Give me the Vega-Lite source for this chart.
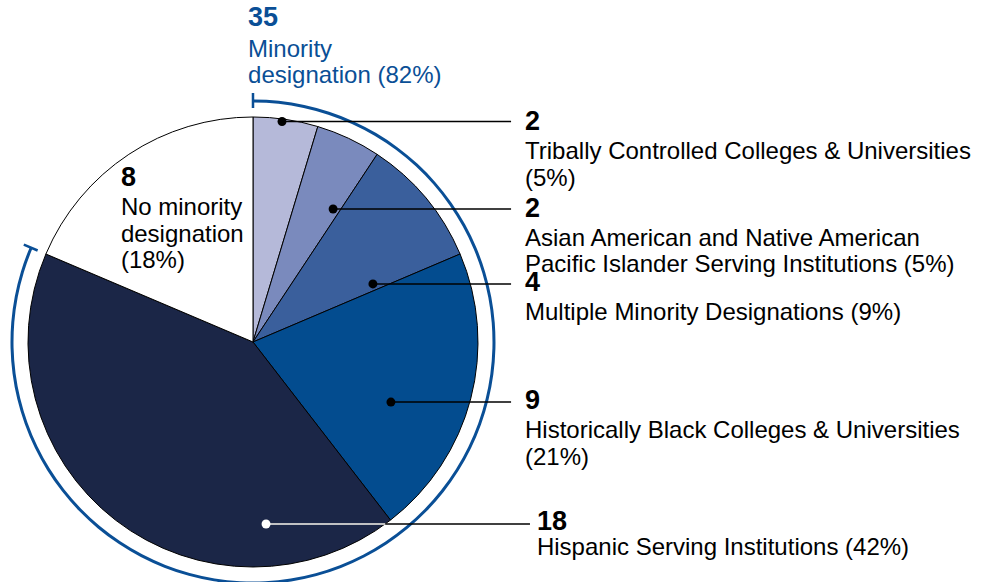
{
  "$schema": "https://vega.github.io/schema/vega-lite/v6.json",
  "width": 990,
  "height": 582,
  "padding": 0,
  "autosize": {"type": "none"},
  "background": "white",
  "config": {"view": {"stroke": null}, "font": "Liberation Sans"},
  "datasets": {
    "slices": [
      {"category": "Tribally Controlled Colleges & Universities", "count": 2, "slice": 1},
      {"category": "Asian American and Native American Pacific Islander Serving Institutions", "count": 2, "slice": 2},
      {"category": "Multiple Minority Designations", "count": 4, "slice": 3},
      {"category": "Historically Black Colleges & Universities", "count": 9, "slice": 4},
      {"category": "Hispanic Serving Institutions", "count": 18, "slice": 5},
      {"category": "No minority designation", "count": 8, "slice": 6}
    ],
    "groups": [
      {"group": "Minority designation", "count": 35, "slot": 1},
      {"group": "No minority designation", "count": 8, "slot": 2}
    ],
    "ticks": [
      {"boundary": "start", "pos": 0},
      {"boundary": "end", "pos": 35}
    ],
    "labels": [
      {"category": "Tribally Controlled Colleges & Universities", "count": 2, "body": "Tribally Controlled Colleges & Universities\n(5%)", "text_x": 120.9, "num_y": 97.6, "body_y": 81.3, "dot_x": 12.9, "line_y": 98.0, "line_end": 114.7},
      {"category": "Asian American and Native American Pacific Islander Serving Institutions", "count": 2, "body": "Asian American and Native American\nPacific Islander Serving Institutions (5%)", "text_x": 120.9, "num_y": 59.1, "body_y": 42.7, "dot_x": 35.6, "line_y": 59.1, "line_end": 114.7},
      {"category": "Multiple Minority Designations", "count": 4, "body": "Multiple Minority Designations (9%)", "text_x": 120.9, "num_y": 26.2, "body_y": 9.8, "dot_x": 53.3, "line_y": 25.8, "line_end": 114.7},
      {"category": "Historically Black Colleges & Universities", "count": 9, "body": "Historically Black Colleges & Universities\n(21%)", "text_x": 120.9, "num_y": -26.2, "body_y": -42.7, "dot_x": 61.3, "line_y": -26.7, "line_end": 114.7},
      {"category": "Hispanic Serving Institutions", "count": 18, "body": "Hispanic Serving Institutions (42%)", "text_x": 126.2, "num_y": -80.0, "body_y": -94.7, "dot_x": 5.8, "line_y": -80.9, "line_end": 123.1, "inner_end": 58.8},
      {"category": "No minority designation", "count": 8, "body": "No minority\ndesignation\n(18%)", "text_x": -58.7, "num_y": 72.9, "body_y": 56.4},
      {"category": "Minority designation", "count": 35, "body": "Minority\ndesignation (82%)", "text_x": -2.2, "num_y": 144.2, "body_y": 126.7}
    ]
  },
  "layer": [
    {
      "data": {"name": "slices"},
      "mark": {"type": "arc", "outerRadius": 225, "stroke": "black", "strokeWidth": 1},
      "encoding": {
        "x": {"datum": 0, "type": "quantitative", "scale": {"domain": [-112.44, 327.56], "nice": false, "zero": false}, "axis": null},
        "y": {"datum": 0, "type": "quantitative", "scale": {"domain": [-106.67, 152], "nice": false, "zero": false}, "axis": null},
        "theta": {"field": "count", "type": "quantitative", "stack": true, "scale": {"domain": [0, 43]}},
        "order": {"field": "slice", "type": "quantitative"},
        "color": {
          "field": "category", "type": "nominal", "legend": null,
          "scale": {
            "domain": ["Tribally Controlled Colleges & Universities", "Asian American and Native American Pacific Islander Serving Institutions", "Multiple Minority Designations", "Historically Black Colleges & Universities", "Hispanic Serving Institutions", "No minority designation"],
            "range": ["#b5b9d9", "#7a8abd", "#3a5f9c", "#034c8f", "#1b2647", "#ffffff"]
          }
        }
      }
    },
    {
      "data": {"name": "groups"},
      "mark": {"type": "arc", "innerRadius": 239.5, "outerRadius": 242.5},
      "encoding": {
        "x": {"datum": 0, "type": "quantitative"},
        "y": {"datum": 0, "type": "quantitative"},
        "theta": {"field": "count", "type": "quantitative", "stack": true, "scale": {"domain": [0, 43]}},
        "order": {"field": "slot", "type": "quantitative"},
        "fill": {"condition": {"test": "datum.group === 'Minority designation'", "value": "#0a4f96"}, "value": "transparent"}
      }
    },
    {
      "data": {"name": "ticks"},
      "mark": {"type": "arc", "innerRadius": 234, "outerRadius": 249, "fill": "transparent", "stroke": "#0a4f96", "strokeWidth": 2.5},
      "encoding": {
        "x": {"datum": 0, "type": "quantitative"},
        "y": {"datum": 0, "type": "quantitative"},
        "theta": {"field": "pos", "type": "quantitative", "stack": null, "scale": {"domain": [0, 43]}},
        "theta2": {"field": "pos"}
      }
    },
    {
      "data": {"name": "labels"},
      "transform": [{"filter": "isValid(datum.dot_x)"}],
      "mark": {"type": "rule", "color": "black", "strokeWidth": 1.5},
      "encoding": {
        "x": {"field": "dot_x", "type": "quantitative"},
        "x2": {"field": "line_end"},
        "y": {"field": "line_y", "type": "quantitative"}
      }
    },
    {
      "data": {"name": "labels"},
      "transform": [{"filter": "isValid(datum.inner_end)"}],
      "mark": {"type": "rule", "color": "white", "strokeWidth": 1.5},
      "encoding": {
        "x": {"field": "dot_x", "type": "quantitative"},
        "x2": {"field": "inner_end"},
        "y": {"field": "line_y", "type": "quantitative"}
      }
    },
    {
      "data": {"name": "labels"},
      "transform": [{"filter": "isValid(datum.dot_x)"}],
      "mark": {"type": "circle", "size": 80, "opacity": 1},
      "encoding": {
        "x": {"field": "dot_x", "type": "quantitative"},
        "y": {"field": "line_y", "type": "quantitative"},
        "color": {"condition": {"test": "datum.category === 'Hispanic Serving Institutions'", "value": "white"}, "value": "black"}
      }
    },
    {
      "data": {"name": "labels"},
      "mark": {"type": "text", "fontSize": 27, "fontWeight": "bold", "align": "left", "baseline": "middle"},
      "encoding": {
        "x": {"field": "text_x", "type": "quantitative"},
        "y": {"field": "num_y", "type": "quantitative"},
        "text": {"field": "count", "type": "quantitative", "format": "d"},
        "color": {"condition": {"test": "datum.category === 'Minority designation'", "value": "#0a4f96"}, "value": "black"}
      }
    },
    {
      "data": {"name": "labels"},
      "mark": {"type": "text", "fontSize": 24, "align": "left", "baseline": "alphabetic", "lineBreak": "\n", "lineHeight": 26.5},
      "encoding": {
        "x": {"field": "text_x", "type": "quantitative"},
        "y": {"field": "body_y", "type": "quantitative"},
        "text": {"field": "body", "type": "nominal"},
        "color": {"condition": {"test": "datum.category === 'Minority designation'", "value": "#0a4f96"}, "value": "black"}
      }
    }
  ]
}
